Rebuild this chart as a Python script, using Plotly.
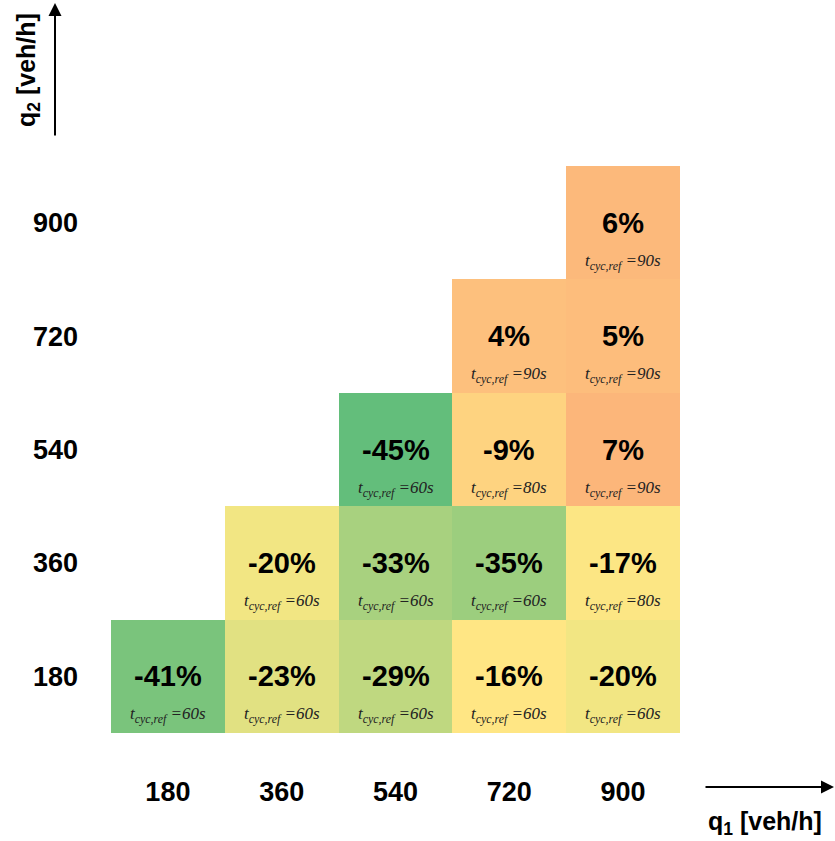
import plotly.graph_objects as go

q1 = [180, 360, 540, 720, 900]
q2 = [180, 360, 540, 720, 900]
# relative change in % (rows = q2, columns = q1)
change = [
    [-41, -23, -29, -16, -20],
    [None, -20, -33, -35, -17],
    [None, None, -45, -9, 7],
    [None, None, None, 4, 5],
    [None, None, None, None, 6],
]
# reference cycle time in s
tcyc = [
    [60, 60, 60, 60, 60],
    [None, 60, 60, 60, 80],
    [None, None, 60, 80, 90],
    [None, None, None, 90, 90],
    [None, None, None, None, 90],
]

zmin, zmax = -45, 7
def n(v):
    return (v - zmin) / (zmax - zmin)
colorscale = [
    [n(-45), "#63BE7B"],
    [n(-20), "#F2E683"],
    [n(-16), "#FFE684"],
    [n(-9), "#FED380"],
    [n(4), "#FDC07D"],
    [n(7), "#FCB67A"],
]

fig = go.Figure(go.Heatmap(
    x=q1, y=q2, z=change, zmin=zmin, zmax=zmax,
    colorscale=colorscale, showscale=False, hoverongaps=False,
))

annotations = []
for i, yv in enumerate(q2):
    for j, xv in enumerate(q1):
        v = change[i][j]
        if v is None:
            continue
        annotations.append(dict(
            x=xv, y=yv, xref="x", yref="y", showarrow=False,
            text=f"<b>{v}%</b>",
            font=dict(family="Liberation Sans", size=29, color="black"),
        ))
        annotations.append(dict(
            x=xv, y=yv, xref="x", yref="y", showarrow=False, yshift=-39,
            text=f"<i>t<sub>cyc,ref</sub> =</i><i>{tcyc[i][j]}s</i>",
            font=dict(family="Liberation Serif", size=17, color="#222"),
        ))

# axis titles and arrows (paper coordinates)
W, H = 569.0, 567.0
L, T = 111, 166
def px(xp):
    return (xp - L) / W
def py(yp):
    return (T + H - yp) / H

annotations.append(dict(
    x=px(55), y=py(3), xref="paper", yref="paper", text="",
    showarrow=True, axref="pixel", ayref="pixel", ax=0, ay=134,
    arrowhead=2, arrowsize=1.3, arrowwidth=2, arrowcolor="black",
))
annotations.append(dict(
    x=px(834), y=py(787), xref="paper", yref="paper", text="",
    showarrow=True, axref="pixel", ayref="pixel", ax=-130, ay=0,
    arrowhead=2, arrowsize=1.3, arrowwidth=2, arrowcolor="black",
))
annotations.append(dict(
    x=px(28), y=py(70), xref="paper", yref="paper", showarrow=False,
    xanchor="center", yanchor="middle",
    text="<b>q<sub>2</sub> [veh/h]</b>", textangle=-90,
    font=dict(family="Liberation Sans", size=25, color="black"),
))
annotations.append(dict(
    x=px(765), y=py(823), xref="paper", yref="paper", showarrow=False,
    xanchor="center", yanchor="middle",
    text="<b>q<sub>1</sub> [veh/h]</b>",
    font=dict(family="Liberation Sans", size=25, color="black"),
))

fig.update_layout(
    width=835, height=841,
    margin=dict(l=L, r=835 - L - int(W), t=T, b=841 - T - int(H), pad=0),
    plot_bgcolor="white", paper_bgcolor="white",
    annotations=annotations,
    xaxis=dict(range=[90, 990], tickvals=q1, ticktext=[str(v) for v in q1],
               showgrid=False, zeroline=False, showline=False, ticks="",
               ticklabelstandoff=40,
               tickfont=dict(family="Liberation Sans", size=27, color="black", weight="bold")),
    yaxis=dict(range=[90, 990], tickvals=q2, ticktext=[str(v) for v in q2],
               showgrid=False, zeroline=False, showline=False, ticks="",
               ticklabelstandoff=32,
               tickfont=dict(family="Liberation Sans", size=27, color="black", weight="bold")),
)

fig.write_html("out.html")
